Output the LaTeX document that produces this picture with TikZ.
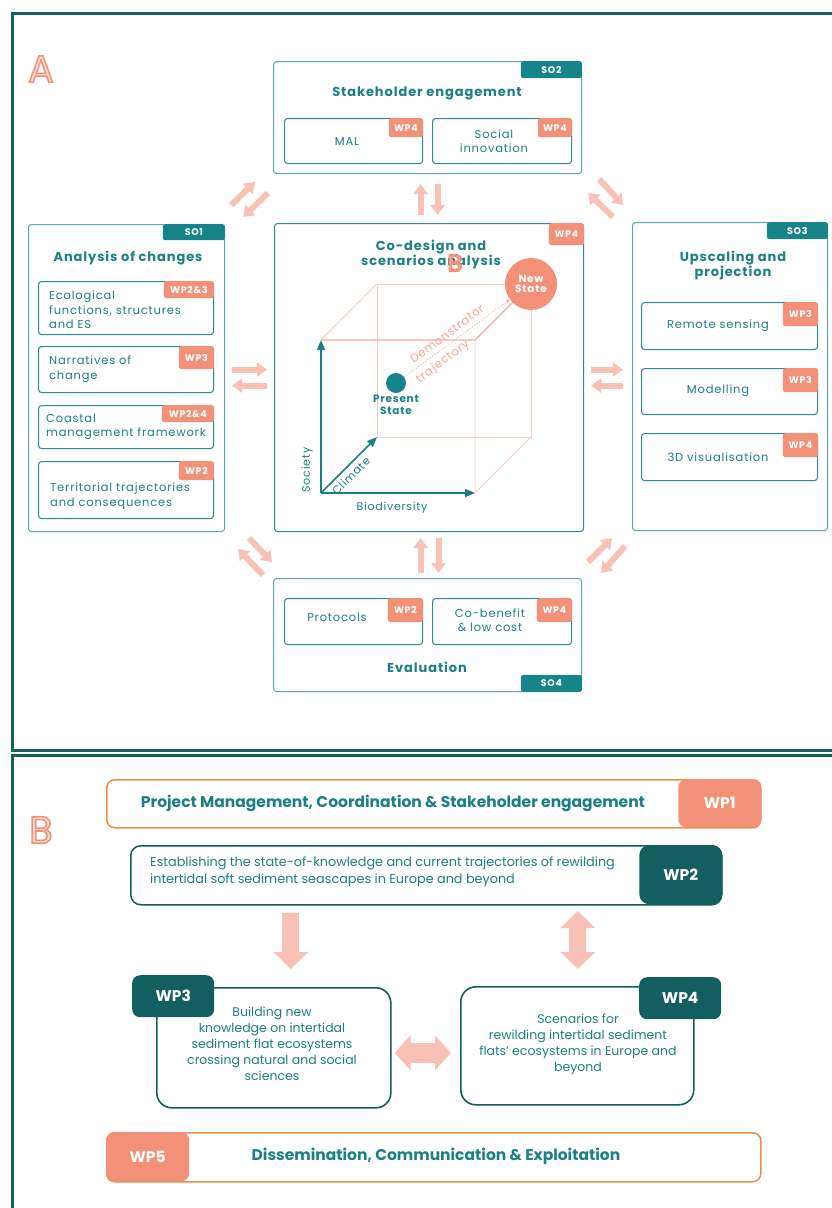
\documentclass[tikz,border=0pt]{standalone}
\usepackage{fontspec}
\setmainfont{Poppins}
\newfontfamily\spaced[LetterSpace=7]{Poppins}
\usetikzlibrary{arrows.meta}

\definecolor{framecol}{HTML}{165F62}
\definecolor{tealtxt}{HTML}{1B7F83}
\definecolor{tagteal}{HTML}{168488}
\definecolor{soline}{HTML}{5FA9AC}
\definecolor{subline}{HTML}{2E8D91}
\definecolor{salmon}{HTML}{F29178}
\definecolor{pinkarrow}{HTML}{F8C1B6}
\definecolor{cubeline}{HTML}{F7CDBF}
\definecolor{cubeedge}{HTML}{F3AE9A}
\definecolor{trajcol}{HTML}{F4A58F}
\definecolor{darkteal}{HTML}{135E60}
\definecolor{orangeline}{HTML}{EC8C48}
\definecolor{palepink}{HTML}{FCE3DC}

\newcommand{\subfont}{\spaced\fontsize{11.5}{14.5}\selectfont}
\newcommand{\titlefont}{\spaced\bfseries\fontsize{13}{12.5}\selectfont}
\newcommand{\tagfont}{\spaced\bfseries\fontsize{9.5}{10}\selectfont}
\newcommand{\bfont}{\fontsize{12.5}{16}\selectfont}
\newcommand{\bboldfont}{\bfseries\fontsize{15.5}{16}\selectfont}
% outlined letter: salmon stroke, pale fill
\newcommand{\outletter}[2]{{\fontsize{#1}{#1}\selectfont\color{palepink}\special{pdf:literal direct 2 Tr 1.6 w 0.949 0.569 0.471 RG}#2\special{pdf:literal direct 0 Tr 0 w}}}

\begin{document}
\begin{tikzpicture}[x=1pt, y=-1pt,
  sobox/.style={draw=soline, line width=1.1pt, rounded corners=3pt, anchor=north west, inner sep=0pt},
  subbox/.style={draw=subline, line width=1.1pt, rounded corners=3pt, anchor=north west, inner sep=0pt},
  sotag/.style={fill=tagteal, rounded corners=2.5pt, text=white, font=\tagfont, minimum width=61pt, minimum height=17pt, inner sep=0pt},
  wptag/.style={fill=salmon, rounded corners=2.5pt, text=white, font=\tagfont, minimum height=19pt, inner sep=0pt, anchor=north east},
  sotitle/.style={text=tealtxt, font=\titlefont, align=center, inner sep=0pt},
  subtext/.style={text=tealtxt, font=\subfont, align=center, inner sep=0pt},
  leftsub/.style={subtext, anchor=west, align=left},
  axislabel/.style={text=tealtxt, font=\spaced\fontsize{11}{11}\selectfont, inner sep=0pt},
  trajtext/.style={text=trajcol, font=\spaced\fontsize{11.5}{11}\selectfont, inner sep=0pt},
  axis/.style={tealtxt, line width=1.5pt, -{Triangle[width=8pt,length=10pt]}},
  smallarrow/.style={pinkarrow, line width=6pt, -{Triangle[width=14pt,length=10pt]}},
  bigarrow/.style={pinkarrow, line width=17pt, -{Triangle[width=34pt,length=17pt]}},
  wpbar/.style={line width=1.5pt, rounded corners=8pt, anchor=north west, inner sep=0pt},
  wpbox/.style={draw=darkteal, line width=1.6pt, rounded corners=15pt, anchor=north west, inner sep=0pt},
  btag/.style={rounded corners=8pt, text=white, font=\bboldfont, inner sep=0pt},
  btext/.style={text=tealtxt, font=\bfont, align=center, inner sep=0pt},
  bbold/.style={text=tealtxt, font=\bboldfont, inner sep=0pt}]
\useasboundingbox (0,0) rectangle (832,1208);

% frames of A and B
\draw[line width=3pt, framecol] (832,13) -- (12,13) -- (12,750) -- (832,750);
\draw[line width=3pt, framecol] (832,755) -- (12,755) -- (12,1208);
\node[inner sep=0pt] (lettera) at (41,69) {\outletter{38}{A}};
\node[inner sep=0pt] (letterb) at (41,830) {\outletter{38}{B}};

% SO2
\node[sobox, minimum width=308pt, minimum height=112pt] (so2) at (273,61) {};
\node[sotag, anchor=north east] (so2tag) at (so2.north east) {SO2};
\node[sotitle] (so2title) at (427,93) {Stakeholder engagement};
\node[subbox, minimum width=138pt, minimum height=45pt] (mal) at (284,118) {};
\node[wptag, minimum width=34pt] (maltag) at (mal.north east) {WP4};
\node[subtext] (maltext) at (347,141) {MAL};
\node[subbox, minimum width=139pt, minimum height=45pt] (social) at (432,118) {};
\node[wptag, minimum width=34pt] (socialtag) at (social.north east) {WP4};
\node[subtext] (socialtext) at (494,141) {Social\\innovation};

% SO1
\node[sobox, minimum width=196pt, minimum height=307pt] (so1) at (28,224) {};
\node[sotag, anchor=north east, minimum width=62pt, minimum height=16pt] (so1tag) at (so1.north east) {SO1};
\node[sotitle] (so1title) at (128,258) {Analysis of changes};
\node[subbox, minimum width=175pt, minimum height=53pt] (eco) at (38,281) {};
\node[wptag, minimum width=50pt, minimum height=17pt] (ecotag) at (eco.north east) {WP2\&3};
\node[leftsub] (ecotext) at (49,310) {Ecological\\functions, structures\\and ES};
\node[subbox, minimum width=175pt, minimum height=46pt] (narr) at (38,346) {};
\node[wptag, minimum width=35pt, minimum height=23pt] (narrtag) at (narr.north east) {WP3};
\node[leftsub] (narrtext) at (49,369) {Narratives of\\change};
\node[subbox, minimum width=175pt, minimum height=43pt] (coast) at (38,405) {};
\node[wptag, minimum width=52pt, minimum height=17pt] (coasttag) at (coast.north east) {WP2\&4};
\node[leftsub] (coasttext) at (46,427) {Coastal\\management framework};
\node[subbox, minimum width=175pt, minimum height=57pt] (terr) at (38,461) {};
\node[wptag, minimum width=35pt] (terrtag) at (terr.north east) {WP2};
\node[leftsub] (terrtext) at (50,496) {Territorial trajectories\\and consequences};

% centre: co-design cube
\node[sobox, draw=subline, minimum width=309pt, minimum height=308pt] (codesign) at (274,223) {};
\node[wptag, minimum width=35pt, minimum height=22pt] (codesigntag) at (codesign.north east) {WP4};
\node[sotitle] (codesigntitle) at (431,255) {Co-design and\\scenarios analysis};
\node[inner sep=0pt] (letterc) at (455,263) {\outletter{24}{B}};
\coordinate (c0) at (321,493);
\coordinate (c1) at (475,493);
\coordinate (c2) at (475,340);
\coordinate (c3) at (321,340);
\coordinate (c4) at (377,437);
\coordinate (c5) at (531,437);
\coordinate (c6) at (531,284);
\coordinate (c7) at (377,284);
\draw[cubeline, line width=0.8pt] (c4) -- (c5) -- (c6) -- (c7) -- cycle;
\draw[cubeline, line width=0.8pt] (c1) -- (c5) (c3) -- (c7) (c1) -- (c2);
\draw[cubeedge, line width=1.3pt] (c3) -- (c2) -- (c6);
\draw[axis] (c0) -- (c3);
\draw[axis] (c0) -- (c1);
\draw[axis] (c0) -- (c4);
\node[circle, fill=salmon, minimum size=52pt, inner sep=0pt, text=white, font=\spaced\bfseries\fontsize{10.5}{10.5}\selectfont, align=center] (newstate) at (c6) {New\\State};
\node[circle, fill=tagteal, minimum size=20pt, inner sep=0pt] (present) at (396,383) {};
\node[text=tealtxt, font=\spaced\bfseries\fontsize{10.5}{11.5}\selectfont, align=center, inner sep=0pt] (presenttext) at (396,405) {Present\\State};
\draw[trajcol, dotted, line width=0.9pt, -{Stealth[length=5pt]}] (present) -- (newstate);
\node[trajtext, rotate=37] (demo) at (447,334) {Demonstrator};
\node[trajtext, rotate=37] (traj) at (443,362) {trajectory};
\node[axislabel, rotate=90] (society) at (307,470) {Society};
\node[axislabel, rotate=45] (climate) at (351,476) {Climate};
\node[axislabel] (biodiv) at (392,508) {Biodiversity};

% SO3
\node[sobox, minimum width=195pt, minimum height=308pt] (so3) at (632,222) {};
\node[sotag, anchor=north east] (so3tag) at (so3.north east) {SO3};
\node[sotitle] (so3title) at (733,266) {Upscaling and\\projection};
\node[subbox, minimum width=176pt, minimum height=47pt] (remote) at (641,302) {};
\node[wptag, minimum width=35pt, minimum height=24pt] (remotetag) at (remote.north east) {WP3};
\node[subtext] (remotetext) at (718,326) {Remote sensing};
\node[subbox, minimum width=176pt, minimum height=46pt] (model) at (641,368) {};
\node[wptag, minimum width=35pt, minimum height=24pt] (modeltag) at (model.north east) {WP3};
\node[subtext] (modeltext) at (718,391) {Modelling};
\node[subbox, minimum width=176pt, minimum height=47pt] (visual) at (641,433) {};
\node[wptag, minimum width=35pt, minimum height=24pt] (visualtag) at (visual.north east) {WP4};
\node[subtext] (visualtext) at (718,457) {3D visualisation};

% SO4
\node[sobox, minimum width=308pt, minimum height=113pt] (so4) at (273,578) {};
\node[sotag, anchor=south east] (so4tag) at (so4.south east) {SO4};
\node[sotitle] (so4title) at (427,667) {Evaluation};
\node[subbox, minimum width=138pt, minimum height=46pt] (protocols) at (284,598) {};
\node[wptag, minimum width=35pt, minimum height=24pt] (protocolstag) at (protocols.north east) {WP2};
\node[subtext] (protocolstext) at (337,617) {Protocols};
\node[subbox, minimum width=139pt, minimum height=46pt] (cobenefit) at (432,598) {};
\node[wptag, minimum width=35pt, minimum height=24pt] (cobenefittag) at (cobenefit.north east) {WP4};
\node[subtext] (cobenefittext) at (490,620) {Co-benefit\\\& low cost};

% arrows between the SO boxes
\draw[smallarrow] ([shift={(-8.5,-8)}]codesign.north) -- ([shift={(-7,10)}]so2.south);
\draw[smallarrow] ([shift={(10,10)}]so2.south) -- ([shift={(8.5,-8)}]codesign.north);
\draw[smallarrow] ([shift={(-7,-5)}]so4.north) -- ([shift={(-8.5,6)}]codesign.south);
\draw[smallarrow] ([shift={(9.5,6)}]codesign.south) -- ([shift={(11,-5)}]so4.north);
\draw[smallarrow] ([shift={(7,-8.5)}]so1.east) -- ([shift={(-7,-8)}]codesign.west);
\draw[smallarrow] ([shift={(-7,8)}]codesign.west) -- ([shift={(7,7.5)}]so1.east);
\draw[smallarrow] ([shift={(7,-8)}]codesign.east) -- ([shift={(-9,-7)}]so3.west);
\draw[smallarrow] ([shift={(-9,9)}]so3.west) -- ([shift={(7,8)}]codesign.east);
\draw[smallarrow] ([shift={(6,-19)}]so1.north east) -- ([shift={(-18,8)}]so2.south west);
\draw[smallarrow] ([shift={(-5,19)}]so2.south west) -- ([shift={(18,-7)}]so1.north east);
\draw[smallarrow] ([shift={(17,5)}]so2.south east) -- ([shift={(-9,-17)}]so3.north west);
\draw[smallarrow] ([shift={(-19,-5)}]so3.north west) -- ([shift={(6,19)}]so2.south east);
\draw[smallarrow] ([shift={(24,6)}]so1.south east) -- ([shift={(-1,-16)}]so4.north west);
\draw[smallarrow] ([shift={(-10,-3)}]so4.north west) -- ([shift={(13,17)}]so1.south east);
\draw[smallarrow] ([shift={(6,-16)}]so4.north east) -- ([shift={(-20,7)}]so3.south west);
\draw[smallarrow] ([shift={(-7,15)}]so3.south west) -- ([shift={(19,-5)}]so4.north east);

% B: work packages
\node[wpbar, draw=orangeline, minimum width=654pt, minimum height=48pt] (wp1) at (106,779) {};
\node[btag, fill=salmon, minimum width=83pt, minimum height=48pt, anchor=north east] (wp1tag) at (wp1.north east) {WP1};
\node[bbold] (wp1text) at (393,803) {Project Management, Coordination \& Stakeholder engagement};

\node[wpbar, draw=darkteal, rounded corners=10pt, minimum width=591pt, minimum height=59pt] (wp2) at (130,845) {};
\node[btag, fill=darkteal, rounded corners=10pt, minimum width=83pt, minimum height=59pt, anchor=north east] (wp2tag) at (wp2.north east) {WP2};
\node[btext, anchor=west, align=left, font=\fontsize{12.8}{17}\selectfont] (wp2text) at (150,872) {Establishing the state-of-knowledge and current trajectories of rewilding\\intertidal soft sediment seascapes in Europe and beyond};

\node[wpbox, minimum width=234pt, minimum height=120pt] (wp3) at (156,987) {};
\node[btag, fill=darkteal, minimum width=82pt, minimum height=42pt, anchor=north west] (wp3tag) at (132,975) {WP3};
\node[btext] (wp3text) at (272,1044) {Building new\\knowledge on intertidal\\sediment flat ecosystems\\crossing natural and social\\sciences};

\node[wpbox, minimum width=233pt, minimum height=118pt] (wp4) at (460,986) {};
\node[btag, fill=darkteal, minimum width=82pt, minimum height=42pt, anchor=north west] (wp4tag) at (639,977) {WP4};
\node[btext] (wp4text) at (578,1044) {Scenarios for\\rewilding intertidal sediment\\flats’ ecosystems in Europe and\\beyond};

\draw[bigarrow] ([shift={(17,-74)}]wp3.north) -- ([shift={(17,-18)}]wp3.north);
\draw[bigarrow, {Triangle[width=34pt,length=17pt]}-{Triangle[width=34pt,length=17pt]}] ([shift={(0.5,-75)}]wp4.north) -- ([shift={(0.5,-17)}]wp4.north);
\draw[bigarrow, line width=20pt, {Triangle[width=34pt,length=16pt]}-{Triangle[width=34pt,length=16pt]}] ([shift={(3,5)}]wp3.east) -- ([shift={(-9,7)}]wp4.west);

\node[wpbar, draw=orangeline, minimum width=654pt, minimum height=49pt] (wp5) at (106,1132) {};
\node[btag, fill=salmon, minimum width=83pt, minimum height=49pt, anchor=north west] (wp5tag) at (wp5.north west) {WP5};
\node[bbold] (wp5text) at (436,1156) {Dissemination, Communication \& Exploitation};
\end{tikzpicture}
\end{document}
